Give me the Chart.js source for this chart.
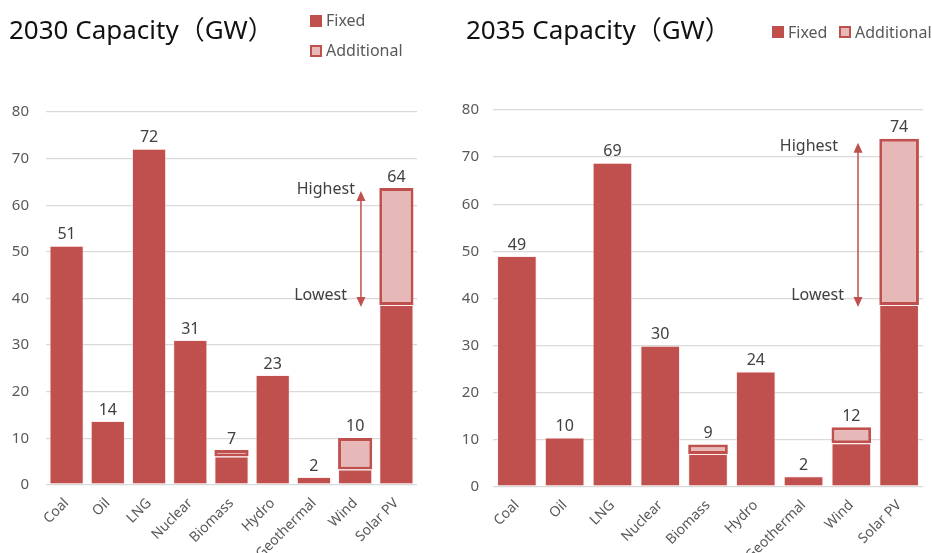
<!DOCTYPE html>
<html>
<head>
<meta charset="utf-8">
<script src="https://cdn.jsdelivr.net/npm/chart.js@4.4.1/dist/chart.umd.min.js"></script>
<style>
    body { margin: 0; background: #fff; font-family: "Noto Sans", "Noto Sans CJK JP", sans-serif; }
    .panel { position: absolute; top: 0; height: 553px; }
    .title { position: absolute; font-size: 26px; color: #111; white-space: nowrap; }
    .lg { position: absolute; font-size: 16px; color: #595959; white-space: nowrap; line-height: 16px; }
    .box { position: absolute; width: 12px; height: 12px; box-sizing: border-box; }
    .fixed { background: #C0504D; }
    .add { background: #E6B9B8; border: 2px solid #C0504D; }
</style>
</head>
<body>
<div class="panel" style="left:0; width:466px">
    <canvas id="chart2030" width="466" height="553"></canvas>
    <div class="title" style="left:9px; top:9px">2030 Capacity（GW）</div>
    <div class="box fixed" style="left:310px; top:15px"></div>
    <div class="lg" style="left:326px; top:12px">Fixed</div>
    <div class="box add" style="left:310px; top:45px"></div>
    <div class="lg" style="left:326px; top:42px">Additional</div>
</div>
<div class="panel" style="left:450px; width:482px">
    <canvas id="chart2035" width="482" height="553"></canvas>
    <div class="title" style="left:16px; top:9px">2035 Capacity（GW）</div>
    <div class="box fixed" style="left:322px; top:26px"></div>
    <div class="lg" style="left:338px; top:24px">Fixed</div>
    <div class="box add" style="left:389px; top:26px"></div>
    <div class="lg" style="left:405px; top:24px">Additional</div>
</div>
<script>
var categories = ['Coal', 'Oil', 'LNG', 'Nuclear', 'Biomass', 'Hydro', 'Geothermal', 'Wind', 'Solar PV'];
var yTicks = [0, 10, 20, 30, 40, 50, 60, 70, 80];

// 2030
var fixed2030 = [51.3, 13.7, 72.1, 31.1, 6.1, 23.6, 1.7, 3.3, 38.6];
var additional2030 = [null, null, null, null, 1.4, null, null, 6.8, 25.1];
var totals2030 = ['51', '14', '72', '31', '7', '23', '2', '10', '64'];

// 2035
var fixed2035 = [49.0, 10.5, 68.8, 30.0, 7.0, 24.5, 2.3, 9.3, 38.6];
var additional2035 = [null, null, null, null, 2.0, null, null, 3.4, 35.3];
var totals2035 = ['49', '10', '69', '30', '9', '24', '2', '12', '74'];

var RED = '#C0504D';
var PINK = '#E6B9B8';
var FONT = '"Noto Sans", sans-serif';

// total labels above each stack
var totalLabels = {
    id: 'totalLabels',
    afterDatasetsDraw: function (chart, args, opts) {
        var ctx = chart.ctx;
        ctx.save();
        ctx.font = '16px ' + FONT;
        ctx.fillStyle = '#404040';
        ctx.textAlign = 'center';
        ctx.textBaseline = 'bottom';
        opts.labels.forEach(function (txt, i) {
            var top = Infinity, x = 0;
            chart.data.datasets.forEach(function (ds, d) {
                var el = chart.getDatasetMeta(d).data[i];
                if (ds.data[i] != null && el.y < top) { top = el.y; x = el.x; }
            });
            ctx.fillText(txt, x, top - 3);
        });
        ctx.restore();
    }
};

// Highest / Lowest arrow next to Solar PV
var rangeArrow = {
    id: 'rangeArrow',
    afterDatasetsDraw: function (chart, args, opts) {
        var ctx = chart.ctx;
        var xs = chart.scales.x, ys = chart.scales.y;
        var i = categories.length - 1;
        var lo = chart.data.datasets[0].data[i];
        var hi = lo + chart.data.datasets[1].data[i];
        var step = xs.getPixelForValue(1) - xs.getPixelForValue(0);
        var x = xs.getPixelForValue(i) - 0.86 * step;
        var y1 = ys.getPixelForValue(hi) + opts.topGap;
        var y2 = ys.getPixelForValue(lo) + 2;
        ctx.save();
        ctx.strokeStyle = RED;
        ctx.fillStyle = RED;
        ctx.lineWidth = 1.5;
        ctx.beginPath();
        ctx.moveTo(x, y1 + 8);
        ctx.lineTo(x, y2 - 8);
        ctx.stroke();
        ctx.beginPath();
        ctx.moveTo(x, y1); ctx.lineTo(x - 4.5, y1 + 10); ctx.lineTo(x + 4.5, y1 + 10);
        ctx.closePath(); ctx.fill();
        ctx.beginPath();
        ctx.moveTo(x, y2); ctx.lineTo(x - 4.5, y2 - 10); ctx.lineTo(x + 4.5, y2 - 10);
        ctx.closePath(); ctx.fill();
        ctx.font = '16px ' + FONT;
        ctx.fillStyle = '#404040';
        ctx.textAlign = 'right';
        ctx.textBaseline = 'middle';
        ctx.fillText('Highest', x + opts.highDx, y1 + opts.highDy);
        ctx.fillText('Lowest', x - 14, y2 - 12);
        ctx.restore();
    }
};

function makeChart(id, fixed, additional, totals, box) {
    return new Chart(document.getElementById(id), {
        type: 'bar',
        data: {
            labels: categories,
            datasets: [{
                label: 'Fixed',
                data: fixed,
                backgroundColor: RED,
                borderColor: 'rgba(255, 225, 225, 0.5)',
                borderWidth: 1,
                borderSkipped: false,
                barPercentage: 0.83,
                categoryPercentage: 1
            }, {
                label: 'Additional',
                data: additional,
                backgroundColor: PINK,
                borderColor: RED,
                borderWidth: 3,
                borderSkipped: false,
                barPercentage: 0.83,
                categoryPercentage: 1
            }]
        },
        options: {
            responsive: false,
            animation: false,
            layout: { padding: { top: box.top, right: box.right, left: 0, bottom: 0 } },
            plugins: {
                legend: { display: false },
                tooltip: { enabled: false },
                totalLabels: { labels: totals },
                rangeArrow: box.arrow
            },
            scales: {
                x: {
                    stacked: true,
                    grid: { display: false },
                    border: { display: false },
                    ticks: {
                        minRotation: 45, maxRotation: 45,
                        color: '#595959',
                        font: { family: FONT, size: 14 },
                        padding: 2
                    },
                    afterFit: function (s) { s.height = box.bottom; }
                },
                y: {
                    stacked: true,
                    min: 0, max: 80,
                    afterBuildTicks: function (s) { s.ticks = yTicks.map(function (v) { return { value: v }; }); },
                    grid: { color: '#d9d9d9', drawTicks: false, lineWidth: 1.3 },
                    border: { display: false },
                    ticks: {
                        color: '#595959',
                        font: { family: FONT, size: 15 },
                        padding: box.tickPad
                    },
                    afterFit: function (s) { s.width = box.yWidth; }
                }
            }
        },
        plugins: [totalLabels, rangeArrow]
    });
}

makeChart('chart2030', fixed2030, additional2030, totals2030, {
    top: 112, right: 49, bottom: 68, yWidth: 46, tickPad: 17,
    arrow: { topGap: 3, highDx: -6, highDy: -2 }
});
makeChart('chart2035', fixed2035, additional2035, totals2035, {
    top: 110, right: 9, bottom: 66, yWidth: 43, tickPad: 14,
    arrow: { topGap: 4, highDx: -20, highDy: 4 }
});
</script>
</body>
</html>
